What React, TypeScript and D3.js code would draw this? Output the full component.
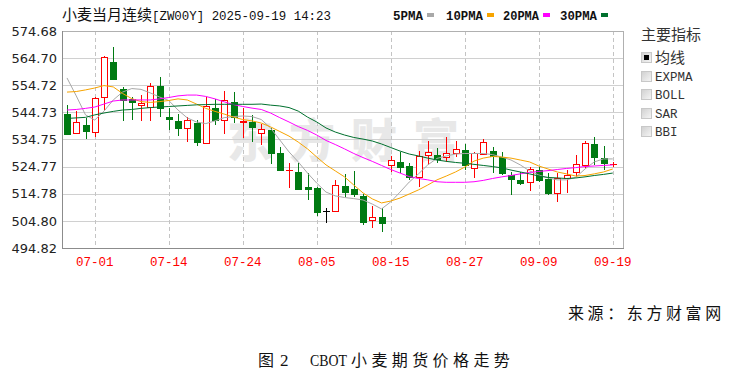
import React from 'react';
import * as d3 from 'd3';

const dates = [
  '06-26', '06-27', '06-30', '07-01', '07-02', '07-03', '07-07', '07-08', '07-09', '07-10',
  '07-11', '07-14', '07-15', '07-16', '07-17', '07-18', '07-21', '07-22', '07-23', '07-24',
  '07-25', '07-28', '07-29', '07-30', '07-31', '08-01', '08-04', '08-05', '08-06', '08-07',
  '08-08', '08-11', '08-12', '08-13', '08-14', '08-15', '08-18', '08-19', '08-20', '08-21',
  '08-22', '08-25', '08-26', '08-27', '08-28', '08-29', '09-02', '09-03', '09-04', '09-05',
  '09-08', '09-09', '09-10', '09-11', '09-12', '09-15', '09-16', '09-17', '09-18', '09-19',
];

const opens = [
  544.1, 537.0, 540.1, 537.5, 550.3, 563.2, 553.2, 549.5, 547.6, 546.7,
  554.3, 543.0, 541.6, 538.9, 541.0, 533.4, 546.3, 541.9, 548.7, 541.2,
  541.3, 537.0, 538.2, 529.7, 523.4, 522.8, 517.1, 516.8, 508.4, 508.5,
  517.6, 516.4, 513.9, 505.1, 506.1, 525.4, 526.4, 525.0, 521.1, 529.1,
  529.1, 528.4, 529.9, 530.9, 524.2, 529.3, 530.5, 528.4, 521.7, 519.8,
  519.0, 523.5, 520.1, 515.2, 520.5, 522.9, 525.4, 533.1, 528.1, 525.6,
];
const highs = [
  547.4, 545.1, 542.5, 550.5, 565.6, 568.9, 554.0, 550.4, 551.0, 555.4,
  557.6, 546.3, 544.1, 543.1, 541.9, 550.4, 549.5, 552.6, 552.3, 546.3,
  543.7, 540.3, 539.0, 532.1, 526.0, 526.1, 522.4, 517.3, 509.5, 519.8,
  521.9, 523.3, 514.7, 510.3, 509.4, 528.7, 530.0, 526.0, 530.6, 534.3,
  531.7, 535.6, 534.3, 533.0, 530.3, 534.8, 532.1, 530.0, 522.9, 522.9,
  524.7, 524.7, 522.3, 522.3, 523.5, 529.1, 534.3, 535.6, 532.4, 526.6,
];
const lows = [
  536.4, 536.7, 534.8, 535.8, 545.6, 556.6, 541.7, 541.9, 541.7, 541.6,
  543.1, 538.2, 535.9, 533.8, 532.2, 533.1, 540.1, 536.8, 540.7, 535.3,
  533.9, 532.7, 525.7, 523.5, 516.8, 516.2, 512.5, 506.7, 504.0, 508.4,
  513.7, 513.5, 503.3, 502.1, 500.8, 522.9, 522.3, 519.8, 517.4, 525.4,
  526.0, 526.6, 528.4, 523.5, 520.5, 529.0, 522.3, 521.7, 514.3, 518.0,
  515.9, 519.2, 514.3, 511.9, 515.2, 521.1, 524.2, 525.4, 523.5, 524.5,
];
const closes = [
  536.7, 541.3, 537.9, 549.9, 565.0, 556.9, 549.3, 548.6, 548.3, 554.3,
  546.3, 542.4, 538.9, 541.9, 533.8, 547.2, 541.9, 549.3, 543.2, 541.7,
  539.4, 538.5, 529.7, 523.7, 523.7, 516.7, 516.4, 508.2, 508.4, 517.9,
  515.5, 514.7, 504.5, 506.4, 504.1, 527.2, 524.8, 520.8, 528.7, 530.3,
  527.5, 529.7, 531.3, 525.4, 529.7, 533.9, 528.7, 522.3, 520.2, 518.9,
  523.9, 519.8, 514.9, 520.5, 521.7, 525.6, 533.4, 528.4, 526.2, 525.8,
];

const ma5 = [
  557.4, 550.8, 543.8, 541.9, 545.2, 549.3, 552.2, 553.5, 553.2, 551.9,
  550.4, 549.1, 545.6, 542.7, 541.2, 540.6, 541.6, 542.8, 543.2, 543.4,
  543.2, 542.1, 539.0, 534.6, 530.2, 526.5, 522.4, 518.7, 515.4, 514.0,
  513.4, 513.0, 512.5, 511.0, 509.2, 511.8, 515.4, 519.1, 522.1, 525.4,
  527.8, 528.7, 529.4, 529.6, 529.6, 529.6, 529.2, 528.3, 527.2, 525.4,
  523.2, 521.7, 520.6, 519.9, 519.9, 520.8, 523.9, 526.5, 527.6, 527.6,
];
const ma10 = [
  552.2, 552.4, 553.0, 553.7, 554.6, 554.1, 551.7, 549.8, 548.7, 548.4,
  548.7, 549.1, 549.7, 549.3, 547.8, 546.2, 545.1, 544.1, 543.0, 542.1,
  541.6, 540.8, 539.4, 537.7, 536.0, 533.8, 531.3, 528.3, 525.4, 523.2,
  521.0, 518.0, 515.1, 512.9, 511.4, 512.1, 513.2, 514.7, 516.2, 518.0,
  519.9, 521.3, 522.8, 524.6, 526.8, 527.9, 528.5, 528.3, 527.9, 527.2,
  526.5, 525.0, 523.9, 522.8, 522.1, 521.3, 521.5, 522.1, 522.8, 523.9,
];
const ma20 = [
  545.6, 545.8, 546.2, 546.7, 547.8, 548.9, 549.3, 549.3, 549.3, 549.3,
  549.7, 550.2, 550.8, 551.1, 551.1, 550.6, 549.7, 548.6, 547.6, 546.9,
  546.3, 545.8, 544.5, 542.8, 541.2, 539.5, 538.1, 536.4, 534.4, 532.9,
  531.3, 529.6, 528.1, 526.7, 525.2, 523.7, 522.4, 521.1, 520.4, 519.9,
  519.2, 519.0, 519.0, 519.0, 519.2, 519.7, 520.4, 521.0, 521.5, 522.1,
  522.6, 523.0, 523.3, 523.7, 524.1, 524.4, 524.8, 525.0, 525.2, 525.4,
];
const ma30 = [
  542.5, 542.7, 542.9, 543.8, 544.5, 545.1, 545.6, 545.8, 546.2, 546.5,
  546.7, 546.9, 547.1, 547.3, 547.5, 547.6, 547.7, 547.7, 547.7, 547.7,
  547.7, 547.8, 547.4, 547.1, 546.5, 545.2, 543.0, 541.2, 539.0, 537.5,
  536.4, 535.5, 534.9, 534.2, 533.1, 531.8, 530.5, 529.4, 528.7, 527.9,
  527.2, 526.7, 526.3, 526.0, 525.6, 525.2, 524.8, 524.3, 523.5, 522.8,
  522.1, 521.3, 520.8, 520.6, 520.4, 520.6, 521.0, 521.5, 521.9, 522.4,
];

const yTicks = [574.68, 564.70, 554.72, 544.73, 534.75, 524.77, 514.78, 504.80, 494.82];
const xTicks = ['07-01', '07-14', '07-24', '08-05', '08-15', '08-27', '09-09', '09-19'];
const maNames = ['5PMA', '10PMA', '20PMA', '30PMA'];
const maSeries = [ma5, ma10, ma20, ma30];
const maColors = ['#a8a8a8', '#f7a400', '#ff00ff', '#00702e'];
const indicators = ['均线', 'EXPMA', 'BOLL', 'SAR', 'BBI'];

const CJK = '"Noto Sans CJK SC", sans-serif';
const MONO = '"Liberation Mono", monospace';

export default function App() {
  const W = 732;
  const H = 372;
  const L = 62, R = 623, T = 31, B = 248;
  const x = d3.scalePoint<string>().domain(dates).range([67, 612.75]);
  const y = d3.scaleLinear().domain([494.82, 574.68]).range([B, T]);
  const line = d3
    .line<number>()
    .x((_, i) => x(dates[i]) as number)
    .y((v) => y(v));

  const red = '#ff0000';
  const green = '#007a12';
  const legendX = [393, 446, 503, 560];
  const legendW = [30, 37, 36, 37];

  return (
    <svg
      width={W}
      height={H}
      viewBox={`0 0 ${W} ${H}`}
      style={{ position: 'absolute', left: 0, top: 0, background: '#fff' }}
    >
      <rect x={0} y={0} width={W} height={H} fill="#fff" />
      {/* Title */}
      <text x={62} y={20} fontFamily={CJK} fontSize={15} fill="#111">
        小麦当月连续
      </text>
      <text x={152} y={20} fontFamily={MONO} fontSize={13} fill="#111" textLength={179} lengthAdjust="spacingAndGlyphs">
        [ZW00Y] 2025-09-19 14:23
      </text>

      {/* Legend */}
      {maNames.map((n, k) => (
        <g key={n}>
          <text x={legendX[k]} y={20} fontFamily={MONO} fontWeight="bold" fontSize={12.5} fill="#111" textLength={legendW[k]} lengthAdjust="spacingAndGlyphs">
            {n}
          </text>
          <rect x={legendX[k] + legendW[k] + 4} y={13} width={7} height={4} fill={maColors[k]} />
        </g>
      ))}

      {/* Watermark */}
      <text x={227} y={157} fontFamily={CJK} fontWeight={900} fontSize={46} fill="#e8e8e8" letterSpacing={16}>
        东方财富
      </text>

      {/* Grid */}
      {yTicks.slice(1, -1).map((v) => (
        <line key={v} x1={L} x2={R} y1={Math.round(y(v)) + 0.5} y2={Math.round(y(v)) + 0.5} stroke="#d0d0d0" />
      ))}
      {xTicks.map((d) => {
        const xx = Math.round(x(d) as number) + 0.5;
        return <line key={d} x1={xx} x2={xx} y1={T} y2={B} stroke="#c4c4c4" strokeDasharray="4,3" />;
      })}
      <rect x={L + 0.5} y={T + 0.5} width={R - L} height={B - T} fill="none" stroke="#b0b0b0" />
      <line x1={L + 0.5} x2={L + 0.5} y1={T} y2={B + 1} stroke="#8c8c8c" />
      <line x1={L} x2={R + 1} y1={B + 0.5} y2={B + 0.5} stroke="#8c8c8c" />

      {/* Y labels */}
      {yTicks.map((v) => (
        <text key={v} x={57} y={y(v)} dy="0.36em" textAnchor="end" fontFamily='"DejaVu Sans", sans-serif' fontSize={13} fill="#222">
          {v.toFixed(2)}
        </text>
      ))}
      {/* X labels */}
      {xTicks.map((d) => (
        <text key={d} x={x(d) as number} y={266} textAnchor="middle" fontFamily={MONO} fontSize={12.5} fill={red}>
          {d}
        </text>
      ))}

      {/* Candles */}
      <g shapeRendering="crispEdges">
        {dates.map((d, i) => {
          const cx = Math.round(x(d) as number);
          const o = opens[i], c = closes[i], h = highs[i], l = lows[i];
          const yH = Math.round(y(h));
          const yL = Math.round(y(l));
          const yTop = Math.round(y(Math.max(o, c)));
          const yBot = Math.round(y(Math.min(o, c)));
          if (o === c || yBot - yTop < 1) {
            const col = o === c ? '#000' : c > o ? red : green;
            return (
              <g key={d}>
                <line x1={cx + 0.5} x2={cx + 0.5} y1={yH} y2={yL} stroke={col} />
                <line x1={cx - 3} x2={cx + 4} y1={yTop + 0.5} y2={yTop + 0.5} stroke={col} />
              </g>
            );
          }
          if (c > o) {
            return (
              <g key={d}>
                <line x1={cx + 0.5} x2={cx + 0.5} y1={yH} y2={yTop} stroke={red} />
                <line x1={cx + 0.5} x2={cx + 0.5} y1={yBot} y2={yL} stroke={red} />
                <rect x={cx - 2.5} y={yTop + 0.5} width={6} height={yBot - yTop} fill="#fff" stroke={red} />
              </g>
            );
          }
          return (
            <g key={d}>
              <line x1={cx + 0.5} x2={cx + 0.5} y1={yH} y2={yL} stroke={green} />
              <rect x={cx - 3} y={yTop} width={7} height={yBot - yTop + 1} fill={green} />
            </g>
          );
        })}
      </g>

      {/* Moving averages */}
      {maSeries.map((s, k) => (
        <path key={k} d={line(s) as string} fill="none" stroke={maColors[k]} strokeWidth={1} />
      ))}

      {/* Indicator panel */}
      <text x={641} y={40} fontFamily={CJK} fontSize={15} fill="#333">
        主要指标
      </text>
      <defs>
        <linearGradient id="cb" x1="0" y1="0" x2="1" y2="1">
          <stop offset="0" stopColor="#cfcfcf" />
          <stop offset="1" stopColor="#f6f6f6" />
        </linearGradient>
      </defs>
      {indicators.map((n, k) => {
        const top = 52 + k * 18.5;
        return (
          <g key={n}>
            <rect x={641.5} y={Math.round(top) + 0.5} width={10} height={10} fill="url(#cb)" stroke="#c8c8c8" />
            {k === 0 && <rect x={644} y={Math.round(top) + 3} width={5} height={5} fill="#000" />}
            {k === 0 ? (
              <text x={655} y={top + 10.5} fontFamily={CJK} fontSize={15} fill="#333">
                {n}
              </text>
            ) : (
              <text x={655} y={top + 10} fontFamily={MONO} fontSize={12.5} fill="#333">
                {n}
              </text>
            )}
          </g>
        );
      })}

      {/* Source and caption */}
      <text x={568} y={319} fontFamily={CJK} fontSize={16} fill="#111" letterSpacing={3.6}>
        来源：东方财富网
      </text>
      <text x={258} y={366} fontFamily={CJK} fontSize={16} fill="#111">
        图
      </text>
      <text x={280} y={366} fontFamily='"Liberation Serif", serif' fontSize={17} fill="#111">
        2
      </text>
      <text x={310} y={366} fontFamily='"Liberation Serif", serif' fontSize={17} fill="#111" textLength={37} lengthAdjust="spacingAndGlyphs">
        CBOT
      </text>
      <text x={351} y={366} fontFamily={CJK} fontSize={16} fill="#111" letterSpacing={4.4}>
        小麦期货价格走势
      </text>
    </svg>
  );
}
